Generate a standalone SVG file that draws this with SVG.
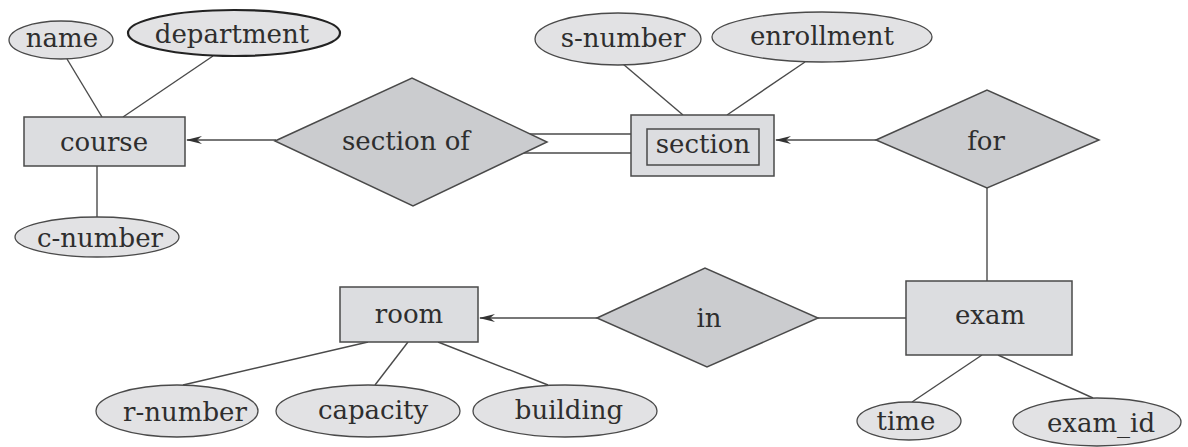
<svg xmlns="http://www.w3.org/2000/svg" width="1188" height="447" viewBox="0 0 1188 447">
<style>
.ent{fill:#dcdde0;stroke:#4a4a4a;stroke-width:1.5}
.rel{fill:#cbcccf;stroke:#4a4a4a;stroke-width:1.5}
.att{fill:#e2e2e4;stroke:#4a4a4a;stroke-width:1.3}
.key{fill:#e2e2e4;stroke:#222;stroke-width:2.2}
.ln{stroke:#4a4a4a;stroke-width:1.4;fill:none}
text{font-family:"DejaVu Serif","Liberation Serif",serif;font-size:26px;fill:#2e2e2e;text-anchor:middle}
</style>
<defs>
<marker id="arr" viewBox="0 0 16 10" refX="15" refY="5" markerWidth="16" markerHeight="10" markerUnits="userSpaceOnUse" orient="auto">
<path d="M0,1 L16,5 L0,9 L5,5 z" fill="#333"/>
</marker>
</defs>
<rect width="1188" height="447" fill="#ffffff"/>
<g id="connectors">
<line class="ln" x1="67" y1="59" x2="102" y2="117"/>
<line class="ln" x1="213" y1="56" x2="123" y2="117"/>
<line class="ln" x1="97" y1="166" x2="97" y2="217"/>
<line class="ln" x1="276" y1="140" x2="187" y2="140" marker-end="url(#arr)"/>
<line class="ln" x1="526" y1="134" x2="631" y2="134"/>
<line class="ln" x1="520" y1="153" x2="631" y2="153"/>
<line class="ln" x1="623" y1="64" x2="683" y2="115"/>
<line class="ln" x1="805" y1="62" x2="727" y2="115"/>
<line class="ln" x1="876" y1="140" x2="776" y2="140" marker-end="url(#arr)"/>
<line class="ln" x1="987" y1="188" x2="987" y2="281"/>
<line class="ln" x1="818" y1="318" x2="906" y2="318"/>
<line class="ln" x1="597" y1="318" x2="480" y2="318" marker-end="url(#arr)"/>
<line class="ln" x1="368" y1="342" x2="183" y2="385"/>
<line class="ln" x1="408" y1="342" x2="375" y2="385"/>
<line class="ln" x1="438" y1="342" x2="548" y2="385"/>
<line class="ln" x1="982" y1="355" x2="912" y2="402"/>
<line class="ln" x1="998" y1="355" x2="1093" y2="398"/>
</g>
<g id="name"><ellipse class="att" cx="61" cy="40" rx="52" ry="19"/><text x="62" y="47">name</text></g>
<g id="department"><ellipse class="key" cx="234" cy="33" rx="106" ry="23"/><text x="232" y="43">department</text></g>
<g id="course"><rect class="ent" x="24" y="117" width="161" height="49"/><text x="104" y="151">course</text></g>
<g id="c-number"><ellipse class="att" cx="97" cy="237" rx="82" ry="20"/><text x="100" y="247">c-number</text></g>
<g id="section-of"><polygon class="rel" points="275,141 412,78 547,142 413,206"/><text x="406" y="150">section of</text></g>
<g id="s-number"><ellipse class="att" cx="618" cy="39" rx="83" ry="26"/><text x="623" y="47">s-number</text></g>
<g id="enrollment"><ellipse class="att" cx="822" cy="37" rx="110" ry="25"/><text x="822" y="45">enrollment</text></g>
<g id="section"><rect class="ent" x="631" y="115" width="143" height="61"/><rect class="ent" x="647" y="129" width="112" height="36"/><text x="703" y="153">section</text></g>
<g id="for"><polygon class="rel" points="876,140 987,90 1099,140 987,188"/><text x="986" y="150">for</text></g>
<g id="exam"><rect class="ent" x="906" y="281" width="166" height="74"/><text x="990" y="324">exam</text></g>
<g id="in"><polygon class="rel" points="597,318 705,268 818,318 707,367"/><text x="709" y="327">in</text></g>
<g id="room"><rect class="ent" x="340" y="287" width="138" height="55"/><text x="409" y="323">room</text></g>
<g id="r-number"><ellipse class="att" cx="177" cy="411" rx="81" ry="26"/><text x="185" y="421">r-number</text></g>
<g id="capacity"><ellipse class="att" cx="368" cy="411" rx="92" ry="26"/><text x="373" y="419">capacity</text></g>
<g id="building"><ellipse class="att" cx="565" cy="411" rx="92" ry="26"/><text x="569" y="419">building</text></g>
<g id="time"><ellipse class="att" cx="909" cy="421" rx="52" ry="19"/><text x="906" y="430">time</text></g>
<g id="exam_id"><ellipse class="att" cx="1097" cy="422" rx="84" ry="24"/><text x="1101" y="432">exam_id</text></g>
</svg>
